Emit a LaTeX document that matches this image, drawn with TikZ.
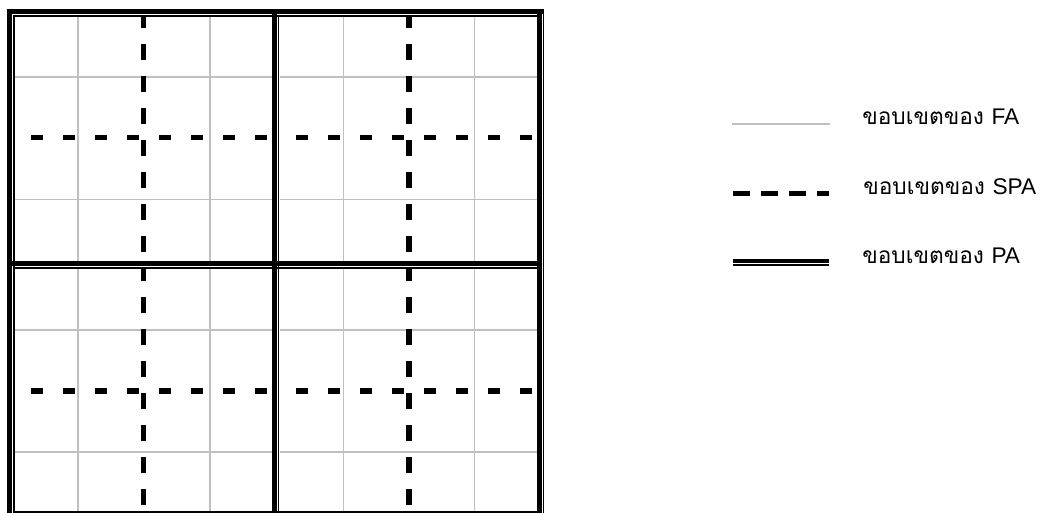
\documentclass[tikz,border=0pt]{standalone}
\usepackage{fontspec}
\newfontfamily\thai[Script=Thai]{Loma}
\newfontfamily\lat{Liberation Sans}
\definecolor{fagray}{HTML}{C0C0C0}
\begin{document}
\begin{tikzpicture}[x=0.75pt,y=-0.75pt,
  pathick/.style={line width=3.6pt, black},
  pathin/.style={line width=1.1pt, black},
  fa/.style={line width=1pt, fagray},
  spa/.style={line width=3.9pt, black, dash pattern=on 9pt off 15pt},
  spav/.style={line width=4.4pt, black, dash pattern=on 12pt off 12pt},
  lbl/.style={anchor=base west, inner sep=0pt, font=\thai\fontsize{17pt}{19pt}\selectfont}
]
\useasboundingbox[fill=white] (0,0) rectangle (1040,513);

% FA grid lines (grey)
\foreach \x in {78,210,343.3,474.5}{
  \draw[fa] (\x,16.5) -- (\x,261);
  \draw[fa] (\x,268.7) -- (\x,513);
}
\foreach \y in {77,199.7}{
  \draw[fa] (15,\y) -- (272,\y);
  \draw[fa] (279.5,\y) -- (537,\y);
}
\foreach \y in {330,452}{
  \draw[fa] (15,\y) -- (272,\y);
  \draw[fa] (279.5,\y) -- (537,\y);
}

% SPA boundaries (dashed)
\foreach \x in {143.5,409}{
  \draw[spav, dash phase=3pt] (\x,16.5) -- (\x,261);
  \draw[spav, dash phase=3pt] (\x,268.7) -- (\x,513);
}
\foreach \y in {137.5,391}{
  \draw[spa, dash phase=12pt] (15,\y) -- (272,\y);
  \draw[spa, dash phase=12pt] (279.5,\y) -- (537,\y);
}

% PA boundaries (thick-thin double lines)
\draw[pathick] (6.8,11.2) -- (544.3,11.2);
\draw[pathick] (9.2,9) -- (9.2,520);
\draw[pathin] (14.2,15) -- (14.2,520);
\draw[pathin] (13.5,15.8) -- (537,15.8);
\draw[pathick] (274.5,13) -- (274.5,520);
\draw[pathin] (278.7,15) -- (278.7,520);
\draw[pathick] (11,263.5) -- (542,263.5);
\draw[pathin] (14.2,267.8) -- (537,267.8);
\draw[pathick] (539.3,9) -- (539.3,520);
\draw[pathin] (543.4,13) -- (543.4,520);
\draw[pathin] (14,512) -- (537,512);

% Legend
\coordinate (faA) at (732,124.3);
\coordinate (faB) at (830,124.3);
\draw[fa, line width=1.4pt] (faA) -- (faB);
\node[lbl] (faT) at (862,125) {ขอบเขตของ {\lat FA}};

\coordinate (spaA) at (733,193.5);
\coordinate (spaB) at (829,193.5);
\draw[line width=3.4pt, dash pattern=on 12.5pt off 8.5pt] (spaA) -- (spaB);
\node[lbl] (spaT) at (863,195) {ขอบเขตของ {\lat SPA}};

\coordinate (paA) at (733,261.3);
\coordinate (paB) at (829,261.3);
\coordinate (paC) at (733,265);
\coordinate (paD) at (829,265);
\draw[line width=3pt] (paA) -- (paB);
\draw[line width=1.1pt] (paC) -- (paD);
\node[lbl] (paT) at (862,263.3) {ขอบเขตของ {\lat PA}};
\end{tikzpicture}
\end{document}
